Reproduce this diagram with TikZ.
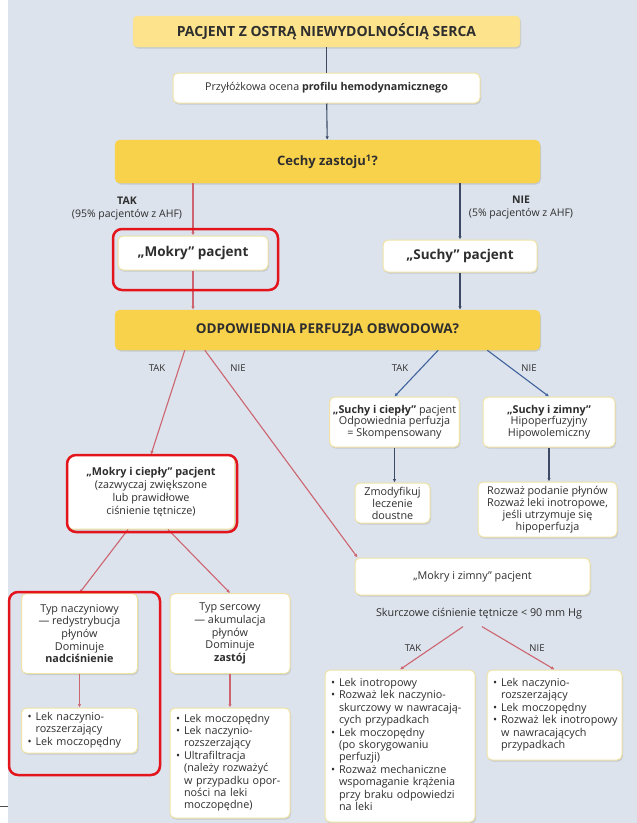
\documentclass[tikz,border=0pt]{standalone}
\usepackage{fontspec}
\setmainfont{Open Sans}
\usepackage{xcolor}
\usetikzlibrary{arrows.meta, positioning, calc, shadows}
\definecolor{tlo}{HTML}{DCE3EC}
\definecolor{zloty}{HTML}{F9D24B}
\definecolor{zoltyjasny}{HTML}{FCE38C}
\definecolor{ramka}{HTML}{EFE2A4}
\definecolor{czerwony}{HTML}{CC6570}
\definecolor{niebieski}{HTML}{41649E}
\definecolor{granat}{HTML}{3C4A66}
\definecolor{tekst}{HTML}{2E2E2E}
\definecolor{zaznacz}{HTML}{E3141C}
\newcommand{\lista}[1]{\begin{tabular}{@{}l@{\hspace{4pt}}l@{}}#1\end{tabular}}
\tikzset{
    box_title/.style={
        rectangle, rounded corners=4pt, align=center, draw=ramka, fill=zoltyjasny, text=tekst,
        drop shadow={shadow xshift=1pt, shadow yshift=-1.5pt, opacity=0.25}, font=\fontsize{14}{16}\selectfont\bfseries
    },
    box_gold/.style={
        rectangle, rounded corners=5pt, align=center, draw=zloty, fill=zloty, text=tekst,
        drop shadow={shadow xshift=1pt, shadow yshift=-1.5pt, opacity=0.25}, font=\fontsize{13}{15}\selectfont\bfseries
    },
    box_white/.style={
        rectangle, rounded corners=5pt, align=center, draw=ramka, line width=1pt, fill=white, text=tekst,
        drop shadow={shadow xshift=1pt, shadow yshift=-1.5pt, opacity=0.25}, font=\fontsize{10.8}{12.7}\selectfont
    },
    box_list/.style={
        box_white, align=left, inner xsep=6pt, inner ysep=3pt, font=\fontsize{10.8}{12.4}\selectfont
    },
    label_text/.style={
        text=tekst, align=center, inner sep=1pt, font=\fontsize{10.5}{13}\selectfont
    },
    label_small/.style={
        text=tekst, inner sep=1pt, font=\fontsize{9.5}{11}\selectfont
    },
    highlight/.style={
        draw=zaznacz, line width=2.5pt, rounded corners=9pt
    },
    arrow_red/.style={
        line width=1.1pt, -{Latex[length=3.5pt, width=3.5pt]}, draw=czerwony
    },
    arrow_blue/.style={
        line width=1.1pt, -{Latex[length=3.5pt, width=3.5pt]}, draw=niebieski
    },
    arrow_dark/.style={
        line width=1.1pt, -{Latex[length=3.5pt, width=3.5pt]}, draw=granat
    }
}
\begin{document}
\begin{tikzpicture}[x=1pt, y=-1pt]
    \useasboundingbox (0,0) rectangle (637,823);
    \fill[tlo] (8,0) rectangle (637,823);
    \draw[gray!60!black, line width=1pt] (0,806) -- (8,806);

    % Ocena wstepna
    \node[box_title, minimum width=387pt, minimum height=31pt] (tytul) at (326.5,31.5) {PACJENT Z OSTRĄ NIEWYDOLNOŚCIĄ SERCA};
    \node[box_white, minimum width=307pt, minimum height=30pt, font=\fontsize{10.7}{13}\selectfont] (ocena) at (326.5,88) {Przyłóżkowa ocena \textbf{profilu hemodynamicznego}};
    \node[box_gold, minimum width=425pt, minimum height=43pt] (zastoj) at (327.5,161.5) {Cechy zastoju\textsuperscript{1}?};

    \node[box_white, minimum width=150pt, minimum height=34pt, font=\fontsize{13.5}{15}\selectfont\bfseries] (mokry) at (193,253) {„Mokry” pacjent};
    \node[box_white, minimum width=154pt, minimum height=32pt, font=\fontsize{13.5}{15}\selectfont\bfseries] (suchy) at (460,256) {„Suchy” pacjent};
    \node[label_text] (takA) at (127,208) {\textbf{TAK}\\(95\% pacjentów z AHF)};
    \node[label_text] (nieA) at (521,208) {\textbf{NIE}\\(5\% pacjentów z AHF)};

    \node[box_gold, minimum width=425pt, minimum height=40pt, font=\fontsize{13.5}{15}\selectfont\bfseries] (perfuzja) at (327.5,330) {ODPOWIEDNIA PERFUZJA OBWODOWA?};

    % Galaz "suchy"
    \node[box_white, minimum width=126pt, minimum height=50pt, font=\fontsize{10.8}{11.8}\selectfont] (suchyCiepl) at (394.5,422) {\textbf{„Suchy i ciepły”} pacjent\\Odpowiednia perfuzja\\= Skompensowany};
    \node[box_white, minimum width=132pt, minimum height=50pt, font=\fontsize{10.8}{11.8}\selectfont] (suchyZimny) at (549,422) {\textbf{„Suchy i zimny”}\\Hipoperfuzyjny\\Hipowolemiczny};
    \node[box_white, minimum width=75pt, minimum height=40pt, font=\fontsize{10.8}{12}\selectfont] (zmodyfikuj) at (392.5,503) {Zmodyfikuj\\leczenie\\doustne};
    \node[box_white, minimum width=139pt, minimum height=55pt, font=\fontsize{10.8}{12.2}\selectfont] (rozwaz) at (547.5,509.5) {Rozważ podanie płynów\\Rozważ leki inotropowe,\\jeśli utrzymuje się\\hipoperfuzja};

    % Galaz "mokry"
    \node[box_white, minimum width=167pt, minimum height=74pt] (mokryCiepl) at (151,492) {\textbf{„Mokry i ciepły” pacjent}\\(zazwyczaj zwiększone\\lub prawidłowe\\ciśnienie tętnicze)};
    \node[box_white, minimum width=116pt, minimum height=80pt] (naczyniowy) at (79.5,633.5) {Typ naczyniowy\\— redystrybucja\\płynów\\Dominuje\\\textbf{nadciśnienie}};
    \node[box_white, minimum width=120pt, minimum height=80pt] (sercowy) at (230,633.5) {Typ sercowy\\— akumulacja\\płynów\\Dominuje\\\textbf{zastój}};
    \node[box_list, text width=104pt, minimum height=45pt] (lekiNacz) at (79.5,730.5) {\lista{\textbullet & Lek naczynio-\\ & rozszerzający\\ \textbullet & Lek moczopędny}};
    \node[box_list, text width=108pt, minimum height=110pt] (lekiSerc) at (230,763) {\lista{\textbullet & Lek moczopędny\\ \textbullet & Lek naczynio-\\ & rozszerzający\\ \textbullet & Ultrafiltracja\\ & (należy rozważyć\\ & w przypadku opor-\\ & ności na leki\\ & moczopędne)}};

    \node[box_white, minimum width=235pt, minimum height=37pt] (mokryZimny) at (472.5,576.5) {„Mokry i zimny” pacjent};
    \node[label_text, font=\fontsize{10.8}{12}\selectfont] (skurczowe) at (479,614) {Skurczowe ciśnienie tętnicze < 90 mm Hg};
    \node[box_list, text width=138pt, minimum height=152pt] (leczTak) at (400,746) {\lista{\textbullet & Lek inotropowy\\ \textbullet & Rozważ lek naczynio-\\ & skurczowy w nawracają-\\ & cych przypadkach\\ \textbullet & Lek moczopędny\\ & (po skorygowaniu\\ & perfuzji)\\ \textbullet & Rozważ mechaniczne\\ & wspomaganie krążenia\\ & przy braku odpowiedzi\\ & na leki}};
    \node[box_list, text width=123pt, minimum height=90pt] (leczNie) at (554.5,715) {\lista{\textbullet & Lek naczynio-\\ & rozszerzający\\ \textbullet & Lek moczopędny\\ \textbullet & Rozważ lek inotropowy\\ & w nawracających\\ & przypadkach}};

    % Etykiety TAK / NIE
    \node[label_small] (takB) at (157,368) {TAK};
    \node[label_small] (nieB) at (238,368) {NIE};
    \node[label_small] (takC) at (400,368) {TAK};
    \node[label_small] (nieC) at (529,368) {NIE};
    \node[label_small] (takD) at (413,648) {TAK};
    \node[label_small] (nieD) at (537,648) {NIE};

    \draw[granat, line width=1.1pt] (tytul) -- (ocena);
    \draw[arrow_dark] (ocena) -- (zastoj);
    \draw[arrow_red] (zastoj.south -| mokry.north) -- (mokry.north);
    \draw[arrow_dark] (zastoj.south -| suchy.north) -- (suchy.north);
    \draw[arrow_red] (mokry.south) -- (mokry.south |- perfuzja.north);
    \draw[arrow_dark] (suchy.south) -- (suchy.south |- perfuzja.north);
    \draw[arrow_red] ([xshift=70pt]perfuzja.south west) -- (mokryCiepl.north);
    \draw[arrow_red] ([xshift=90pt]perfuzja.south west) -- ([xshift=3pt]mokryZimny.north west);
    \draw[arrow_blue] ([xshift=-102pt]perfuzja.south east) -- (suchyCiepl.north);
    \draw[arrow_blue] ([xshift=-53pt]perfuzja.south east) -- (suchyZimny.north);
    \draw[arrow_dark] (suchyCiepl.south) -- (suchyCiepl.south |- zmodyfikuj.north);
    \draw[arrow_dark] (suchyZimny.south) -- (suchyZimny.south |- rozwaz.north);
    \draw[arrow_red] ([xshift=-23pt]mokryCiepl.south) -- (naczyniowy.north);
    \draw[arrow_red] ([xshift=17pt]mokryCiepl.south) -- (sercowy.north);
    \draw[arrow_red] (naczyniowy) -- (lekiNacz);
    \draw[arrow_red] (sercowy) -- (lekiSerc);
    \draw[arrow_red] ([xshift=-16pt, yshift=-6pt]skurczowe.south) -- (leczTak.north);
    \draw[arrow_red] ([xshift=3pt, yshift=-6pt]skurczowe.south) -- (leczNie.north);

    % Zaznaczenia
    \draw[highlight] (113,229) rectangle (278,290);
    \draw[highlight] (67,455) rectangle (237,532);
    \draw[highlight] (9,592) rectangle (160,775);
\end{tikzpicture}
\end{document}
